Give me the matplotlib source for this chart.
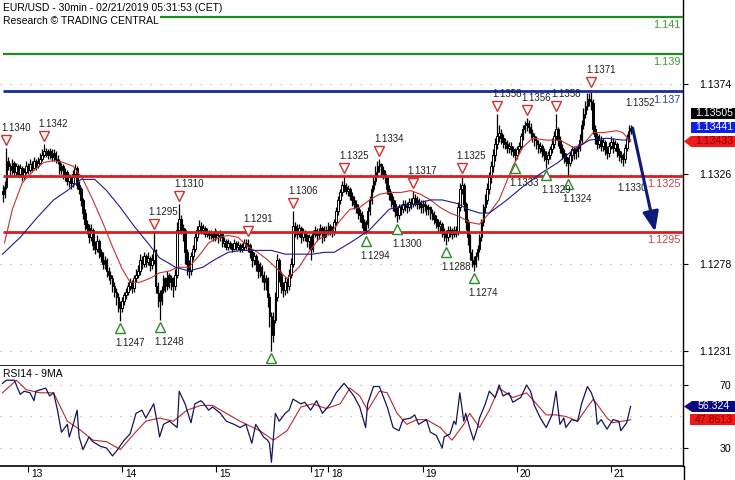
import matplotlib
matplotlib.use("Agg")
import matplotlib.pyplot as plt
import matplotlib.transforms as mtransforms
from matplotlib.patches import Rectangle, Polygon
from matplotlib.lines import Line2D
import numpy as np

plt.rcParams['font.family'] = ['Liberation Sans', 'DejaVu Sans']

# 30 min EUR/USD bars, values in pips above 1.1200
first_open_pips = 117
close_pips = [
    115, 119, 133, 130, 128, 132, 127, 130, 126, 129,
    124, 127, 130, 128, 131, 129, 133, 130, 132, 134,
    136, 138, 137, 136, 138, 135, 137, 134, 133, 128,
    130, 125, 127, 122, 124, 121, 126, 129, 120, 118,
    112, 105, 99, 97, 92, 96, 88, 86, 90, 84,
    82, 78, 80, 74, 72, 70, 66, 63, 60, 56,
    54, 58, 61, 63, 66, 68, 65, 70, 72, 74,
    80, 78, 82, 79, 81, 77, 80, 85, 66, 62,
    58, 64, 70, 66, 72, 68, 70, 66, 72, 96,
    102, 97, 96, 84, 78, 74, 82, 86, 92, 96,
    98, 96, 97, 94, 95, 93, 94, 92, 95, 93,
    92, 94, 89, 90, 87, 89, 88, 86, 89, 87,
    88, 86, 87, 89, 88, 88, 84, 80, 82, 78,
    74, 76, 72, 68, 70, 60, 50, 40, 48, 60,
    80, 72, 66, 64, 68, 66, 72, 78, 98, 96,
    94, 97, 92, 95, 93, 90, 92, 86, 94, 96,
    93, 95, 97, 92, 96, 95, 98, 96, 95, 100,
    106, 112, 116, 120, 119, 117, 118, 114, 112, 110,
    108, 105, 104, 100, 96, 99, 106, 112, 118, 122,
    127, 130, 131, 128, 126, 124, 118, 115, 112, 110,
    106, 104, 108, 107, 110, 109, 108, 111, 110, 113,
    112, 110, 111, 108, 110, 109, 107, 108, 105, 104,
    102, 100, 98, 99, 95, 94, 92, 96, 95, 94,
    96, 95, 108, 118, 120, 110, 100, 92, 84, 80,
    78, 82, 86, 92, 100, 108, 112, 118, 124, 130,
    136, 142, 146, 148, 145, 143, 142, 140, 141, 139,
    138, 136, 139, 141, 146, 150, 152, 153, 151, 148,
    146, 144, 142, 140, 141, 138, 136, 134, 136, 139,
    142, 146, 150, 144, 140, 137, 135, 133, 132, 136,
    139, 137, 138, 140, 144, 152, 158, 162, 166, 165,
    164, 150, 146, 142, 144, 141, 143, 139, 137, 141,
    143, 140, 142, 138, 136, 135, 134, 140, 145, 149,
    150.5,
]
high_pips = [
    120, 122, 140, 135, 132, 134, 133, 132, 131, 131,
    130, 129, 133, 132, 134, 133, 135, 134, 135, 137,
    139, 142, 140, 139, 140, 139, 139, 138, 136, 134,
    132, 131, 129, 128, 126, 125, 128, 131, 130, 122,
    119, 113, 107, 101, 99, 99, 97, 90, 93, 91,
    86, 84, 82, 81, 76, 74, 72, 68, 65, 62,
    58, 60, 63, 65, 68, 70, 69, 72, 75, 77,
    83, 82, 84, 83, 84, 82, 83, 95, 86, 68,
    64, 66, 72, 71, 74, 73, 72, 71, 75, 100,
    110, 104, 99, 97, 86, 80, 84, 88, 95, 98,
    101, 100, 99, 98, 97, 96, 96, 95, 97, 96,
    95, 96, 95, 92, 91, 91, 90, 89, 91, 90,
    90, 89, 89, 91, 91, 91, 89, 85, 84, 83,
    80, 79, 77, 74, 72, 71, 62, 52, 52, 63,
    83, 81, 74, 68, 71, 70, 75, 81, 106, 100,
    99, 99, 98, 97, 96, 94, 94, 93, 96, 98,
    97, 97, 99, 98, 98, 98, 100, 99, 98, 102,
    108, 114, 118, 122, 125, 121, 120, 119, 116, 114,
    112, 110, 107, 106, 102, 101, 108, 114, 120, 125,
    130, 133, 134, 132, 130, 128, 125, 120, 117, 114,
    112, 108, 110, 110, 112, 112, 111, 113, 113, 117,
    115, 114, 113, 112, 112, 112, 110, 110, 109, 107,
    106, 104, 102, 101, 100, 97, 96, 98, 98, 97,
    98, 98, 111, 121, 125, 121, 111, 102, 94, 86,
    82, 84, 88, 94, 102, 110, 115, 121, 127, 133,
    139, 145, 158, 152, 150, 147, 145, 144, 143, 143,
    141, 140, 141, 143, 148, 152, 154, 156, 155, 153,
    150, 148, 146, 144, 143, 142, 140, 138, 138, 141,
    145, 149, 158, 151, 146, 142, 139, 137, 135, 138,
    141, 141, 140, 142, 147, 155, 161, 165, 169, 169,
    171, 166, 152, 148, 147, 146, 145, 144, 141, 143,
    146, 145, 144, 143, 140, 138, 137, 142, 147, 152,
    152,
]
low_pips = [
    111, 113, 118, 128, 125, 126, 125, 125, 124, 124,
    122, 123, 126, 126, 127, 127, 128, 128, 129, 131,
    133, 135, 135, 134, 134, 133, 133, 132, 131, 126,
    126, 123, 122, 120, 119, 118, 119, 124, 118, 115,
    109, 102, 96, 94, 89, 90, 85, 83, 84, 81,
    79, 75, 75, 71, 69, 67, 63, 60, 56, 52,
    47, 52, 56, 59, 61, 64, 62, 63, 68, 70,
    72, 75, 76, 76, 77, 74, 75, 78, 62, 55,
    48, 56, 62, 63, 64, 65, 64, 60, 64, 70,
    94, 94, 90, 78, 72, 70, 72, 80, 84, 90,
    94, 94, 94, 92, 92, 91, 91, 90, 90, 91,
    89, 90, 87, 87, 85, 85, 86, 84, 85, 85,
    85, 84, 84, 85, 86, 84, 81, 76, 77, 74,
    70, 71, 68, 64, 64, 55, 44, 31, 36, 46,
    58, 68, 62, 60, 61, 62, 64, 70, 76, 92,
    91, 92, 89, 90, 90, 87, 86, 80, 84, 92,
    90, 91, 93, 89, 90, 92, 93, 93, 92, 93,
    98, 104, 110, 114, 116, 115, 114, 112, 109, 107,
    105, 102, 100, 97, 94, 94, 97, 104, 110, 116,
    120, 125, 127, 125, 123, 121, 115, 112, 108, 106,
    103, 100, 102, 104, 105, 106, 105, 106, 107, 108,
    109, 107, 107, 105, 105, 106, 104, 104, 102, 101,
    99, 97, 95, 95, 92, 90, 88, 90, 92, 91,
    92, 92, 93, 106, 115, 106, 96, 88, 80, 76,
    74, 76, 80, 84, 90, 98, 105, 110, 115, 121,
    127, 133, 139, 143, 142, 140, 139, 137, 137, 136,
    135, 133, 134, 137, 139, 144, 148, 149, 148, 145,
    143, 141, 139, 137, 137, 135, 133, 129, 131, 134,
    137, 140, 144, 141, 137, 134, 132, 130, 124, 130,
    133, 134, 134, 135, 138, 142, 150, 156, 160, 162,
    160, 147, 142, 139, 140, 138, 138, 136, 134, 135,
    139, 137, 138, 135, 133, 132, 130, 132, 138, 143,
    147,
]

# moving averages as drawn on the chart (bar index, price)
red_ma_bar = [1, 5, 10, 16, 21, 26, 31, 36, 41, 46, 51, 56, 61, 65, 70, 75, 80, 85, 89, 95,
              100, 105, 110, 115, 120, 125, 130, 135, 140, 145, 151, 156, 161, 167, 172, 177,
              182, 187, 192, 197, 203, 208, 213, 218, 223, 228, 233, 238, 243, 248, 253, 260,
              265, 270, 277, 284, 291, 296, 301, 306, 313, 316, 320]
red_ma_val = [1.1289, 1.1307, 1.1321, 1.1328, 1.1332, 1.1333, 1.1332, 1.1330, 1.1323, 1.1312,
              1.1300, 1.1287, 1.1275, 1.1268, 1.1268, 1.1270, 1.1273, 1.1274, 1.1276, 1.1276,
              1.1282, 1.1289, 1.1292, 1.1293, 1.1292, 1.1287, 1.1284, 1.1280, 1.1275, 1.1270,
              1.1276, 1.1284, 1.1291, 1.1294, 1.1301, 1.1307, 1.1308, 1.1312, 1.1315, 1.1316,
              1.1316, 1.1317, 1.1315, 1.1312, 1.1308, 1.1305, 1.1303, 1.1300, 1.1299, 1.1305,
              1.1312, 1.1330, 1.1340, 1.1345, 1.1344, 1.1344, 1.1340, 1.1342, 1.1348, 1.1348,
              1.1349, 1.1348, 1.13433]
blue_ma_bar = [0, 9, 18, 26, 33, 40, 47, 53, 60, 67, 74, 80, 85, 88, 95, 102, 108, 115, 122, 129,
               137, 144, 151, 158, 164, 169, 177, 187, 197, 204, 211, 218, 224, 232, 237, 243,
               248, 257, 265, 274, 283, 291, 299, 308, 316, 320]
blue_ma_val = [1.1283, 1.1292, 1.1303, 1.1312, 1.1317, 1.1323, 1.1323, 1.1317, 1.1308, 1.1298,
               1.1289, 1.1281, 1.1278, 1.1276, 1.1274, 1.1276, 1.1280, 1.1284, 1.1285, 1.1285,
               1.1285, 1.1283, 1.1283, 1.1283, 1.1284, 1.1284, 1.1289, 1.1296, 1.1307, 1.1309,
               1.1310, 1.1312, 1.1312, 1.1310, 1.1307, 1.1305, 1.1305, 1.1312, 1.1319, 1.1326,
               1.1332, 1.1339, 1.1344, 1.1345, 1.1344, 1.13441]

# swing highs / lows flagged on the chart
peak_bar = [2, 21, 77, 90, 125, 148, 174, 192, 209, 234, 252, 267, 282, 300]
peak_val = [1.1340, 1.1342, 1.1295, 1.1310, 1.1291, 1.1306, 1.1325, 1.1334, 1.1317, 1.1325,
            1.1358, 1.1356, 1.1358, 1.1371]
trough_bar = [60, 80, 137, 185, 201, 226, 240, 261, 277, 288]
trough_val = [1.1247, 1.1248, 1.1231, 1.1294, 1.1300, 1.1288, 1.1274, 1.1333, 1.1329, 1.1324]
pending_high_bar, pending_high_val = 320, 1.1352
pending_low_bar, pending_low_val = 316, 1.1330

# key levels
level_val = [1.141, 1.139, 1.137, 1.1325, 1.1295]
level_txt = ['1.141', '1.139', '1.137', '1.1325', '1.1295']
level_col = ['#1f8a1f', '#1f8a1f', '#1a2aa0', '#d42020', '#d42020']
label_col = ['#3a9a3a', '#3a9a3a', '#3040b0', '#d04040', '#d04040']

forecast_bar, forecast_target = 332.5, 1.1295

price_ticks = [1.1374, 1.1326, 1.1278, 1.1231]
day_labels = ['13', '14', '15', '17', '18', '19', '20', '21']
day_bar = [13, 61, 109, 157, 166, 214, 262, 310]

# RSI(14) and its 9 period average (bar index, value)
rsi_bar = [0, 2, 6, 9, 11, 14, 16, 17, 22, 24, 26, 28, 30, 33, 34, 36, 38, 39, 41, 44,
           46, 50, 53, 56, 58, 62, 65, 68, 71, 73, 77, 79, 80, 82, 85, 89, 90, 93, 96, 98,
           101, 102, 105, 107, 111, 114, 118, 121, 124, 127, 129, 133, 135, 136, 137, 139,
           141, 144, 146, 148, 152, 154, 157, 160, 163, 167, 170, 174, 176, 179, 182, 185,
           186, 189, 192, 196, 199, 202, 204, 208, 210, 212, 216, 218, 221, 224, 225, 228,
           230, 231, 233, 235, 236, 238, 240, 242, 243, 246, 248, 251, 253, 255, 258, 260,
           264, 267, 269, 271, 274, 277, 280, 282, 284, 286, 287, 290, 293, 295, 298, 300,
           302, 303, 305, 308, 311, 314, 315, 318, 320]
rsi_val = [71, 73, 73, 64, 66, 65, 60, 66, 68, 63, 65, 54, 40, 45, 37, 45, 54, 37, 29, 37,
           34, 31, 30, 25, 28, 35, 39, 52, 54, 49, 58, 45, 37, 45, 47, 43, 66, 58, 46, 58,
           60, 59, 54, 56, 52, 47, 45, 43, 45, 33, 45, 37, 35, 33, 21, 52,
           47, 52, 54, 61, 58, 59, 54, 60, 52, 58, 65, 71, 68, 63, 56, 43,
           58, 69, 69, 56, 43, 41, 48, 49, 51, 45, 48, 40, 38, 30, 37, 39,
           47, 45, 65, 47, 52, 43, 35, 43, 49, 58, 66, 62, 70, 63, 65, 59,
           62, 70, 66, 57, 49, 43, 51, 66, 45, 49, 43, 48, 47, 58, 69, 65,
           58, 45, 48, 42, 48, 47, 41, 46, 56.324]
rsi_ma_bar = [0, 7, 12, 19, 26, 33, 39, 46, 53, 60, 67, 73, 80, 87, 94, 101, 107, 114, 121, 131,
              138, 145, 152, 158, 165, 172, 177, 182, 186, 192, 196, 201, 206, 211, 216, 223,
              229, 235, 238, 243, 248, 253, 260, 267, 272, 277, 282, 287, 293, 298, 301, 308,
              311, 320]
rsi_ma_val = [65, 73, 67, 65, 65, 47, 42, 35, 34, 29, 39, 47, 49, 47, 54, 57, 57, 52, 47, 41,
              35, 41, 56, 58, 55, 58, 68, 63, 54, 66, 65, 52, 45, 48, 48, 43, 35, 45, 52, 43,
              54, 68, 62, 65, 58, 51, 51, 50, 47, 56, 61, 49, 46, 47.8613]
rsi_ticks = [70, 30]
rsi_grid = [70, 50, 30]

# ---------------------------------------------------------------------------
W, H = 735, 480
fig = plt.figure(figsize=(W / 100, H / 100), dpi=100)
ax = fig.add_axes([0, 114 / H, 683 / W, 366 / H])
ax_rsi = fig.add_axes([0, 14 / H, 683 / W, 100 / H])

bars = np.arange(len(close_pips))
close = 1.12 + np.array(close_pips) / 1e4
high = 1.12 + np.array(high_pips) / 1e4
low = 1.12 + np.array(low_pips) / 1e4
open_ = np.concatenate([[1.12 + first_open_pips / 1e4], close[:-1]])

x_lim = (-1.3, 346.7)
ax.set_xlim(*x_lim)
ax.set_ylim(1.12232, 1.14189)
ax_rsi.set_xlim(*x_lim)
ax_rsi.set_ylim(18.6, 82.0)

grid_style = dict(color='#a8a8a8', lw=0.8, linestyle=(0, (1, 8)), zorder=1)
for t in price_ticks:
    ax.axhline(t, **grid_style)
for t in rsi_grid:
    ax_rsi.axhline(t, **grid_style)

# candles
up = close >= open_
ax.vlines(bars, low, high, color='black', lw=0.9, zorder=3)
ax.bar(bars[up], (close - open_)[up], bottom=open_[up], width=0.85,
       facecolor='white', edgecolor='black', linewidth=0.7, zorder=4)
ax.bar(bars[~up], (open_ - close)[~up], bottom=close[~up], width=0.85,
       facecolor='black', edgecolor='black', linewidth=0.7, zorder=4)

# key levels
for val, txt, col, lcol in zip(level_val, level_txt, level_col, label_col):
    lw = 1.6 if col == '#1f8a1f' else 2.0
    ax.hlines(val, 0, x_lim[1], color=col, lw=lw, zorder=4.5)
    ax.annotate(txt, xy=(1, val), xycoords=('axes fraction', 'data'),
                xytext=(-2, -6), textcoords='offset points',
                ha='right', va='center', color=lcol, fontsize=7.8, zorder=6)

# moving averages
ax.plot(red_ma_bar, red_ma_val, color='#c83030', lw=0.8, zorder=5)
ax.plot(blue_ma_bar, blue_ma_val, color='#1c1c8c', lw=0.8, zorder=5)


def shifted(axis, dx=0, dy=0):
    return mtransforms.offset_copy(axis.transData, fig=fig, x=dx, y=dy, units='dots')


# swing markers
ax.plot(peak_bar, peak_val, 'v', ms=7.5, mfc='white', mec='#cc3030', mew=1.0,
        transform=shifted(ax, dy=8), zorder=6)
ax.plot(trough_bar, trough_val, '^', ms=7.5, mfc='white', mec='#2a8a2a', mew=1.0,
        transform=shifted(ax, dy=-7), zorder=6)
for b, v in zip(peak_bar, peak_val):
    ax.text(b, v, f'{v:.4f}', transform=shifted(ax, -5, 20), ha='left', va='center',
            fontsize=7, color='#202020', zorder=6)
for b, v in zip(trough_bar, trough_val):
    ax.text(b, v, f'{v:.4f}', transform=shifted(ax, -5, -22), ha='left', va='center',
            fontsize=7, color='#202020', zorder=6, clip_on=True)
ax.text(pending_high_bar, pending_high_val, f'{pending_high_val:.4f}',
        transform=shifted(ax, -5, 22), ha='left', va='center', fontsize=7, color='#202020')
ax.text(pending_low_bar, pending_low_val, f'{pending_low_val:.4f}',
        transform=shifted(ax, -5, -22), ha='left', va='center', fontsize=7, color='#202020')

# forecast arrow
ax.annotate('', xy=(forecast_bar, forecast_target), xytext=(bars[-1] + 1, close[-1]),
            arrowprops=dict(arrowstyle='-|>,head_length=0.8,head_width=0.32',
                            color='#0d1a7a', lw=2.2, mutation_scale=15,
                            shrinkA=0, shrinkB=0), zorder=7)

# header text
ax.text(3 / 683, 1 - 8 / 366, 'EUR/USD - 30min - 02/21/2019 05:31:53 (CET)',
        transform=ax.transAxes, ha='left', va='center', fontsize=7.5, color='black', zorder=8)
ax.text(3 / 683, 1 - 21 / 366, 'Research \u00a9 TRADING CENTRAL',
        transform=ax.transAxes, ha='left', va='center', fontsize=7.5, color='black', zorder=8,
        bbox=dict(facecolor='white', edgecolor='none', pad=1))

# RSI panel
ax_rsi.plot(rsi_bar, rsi_val, color='#14145a', lw=0.9, zorder=4)
ax_rsi.plot(rsi_ma_bar, rsi_ma_val, color='#b82828', lw=0.8, zorder=3)
ax_rsi.text(3 / 683, 1 - 8 / 100, 'RSI14 - 9MA', transform=ax_rsi.transAxes,
            ha='left', va='center', fontsize=7.5, color='black')

# axes styling
for a in (ax, ax_rsi):
    a.spines['left'].set_visible(False)
    a.spines['top'].set_visible(False)
    a.spines['right'].set_linewidth(1.0)
    a.spines['bottom'].set_linewidth(1.2)
    a.yaxis.tick_right()
    a.tick_params(axis='y', direction='out', length=3.6, width=0.8, pad=31, labelsize=7.6)

ax.set_yticks(price_ticks)
ax.set_yticklabels([f'{t:.4f}' for t in price_ticks])
ax.tick_params(axis='x', bottom=False, labelbottom=False)
ax_rsi.set_yticks(rsi_ticks)
ax_rsi.set_yticklabels([str(t) for t in rsi_ticks])
for a in (ax, ax_rsi):
    for lbl in a.get_yticklabels():
        lbl.set_horizontalalignment('right')

ax_rsi.set_xticks(day_bar)
ax_rsi.set_xticklabels(day_labels)
ax_rsi.tick_params(axis='x', direction='out', length=4.3, width=0.8, pad=-2, labelsize=7.4)
nudge = mtransforms.ScaledTranslation(3 / 100, 0, fig.dpi_scale_trans)
for lbl in ax_rsi.get_xticklabels():
    lbl.set_horizontalalignment('left')
    lbl.set_transform(lbl.get_transform() + nudge)

# right axis line continues to the bottom edge
fig.add_artist(Line2D([683.5, 683.5], [0, 14], transform=mtransforms.IdentityTransform(),
                      color='black', lw=1.0))

# value tags on the right scale
ident = mtransforms.IdentityTransform()


def value_tag(axis, value, text, face, fg, lift=0, pointer=False, x0=691):
    y = axis.transData.transform((0, value))[1] + lift
    fig.add_artist(Rectangle((x0, y - 5.5), 735 - x0, 11, transform=ident,
                             facecolor=face, edgecolor='none'))
    if pointer:
        fig.add_artist(Polygon([(684, y), (x0, y + 5.5), (x0, y - 5.5)], closed=True,
                               transform=ident, facecolor=face, edgecolor='none'))
    fig.text(714, y, text, transform=ident, ha='center', va='center', color=fg, fontsize=7.6)


value_tag(ax, red_ma_val[-1], f'{red_ma_val[-1]:.5f}', '#ee1a1a', '#8a0000', pointer=True)
value_tag(ax, red_ma_val[-1], f'{blue_ma_val[-1]:.5f}', '#1020e0', 'white', lift=14)
value_tag(ax, red_ma_val[-1], f'{close[-1]:.5f}', 'black', 'white', lift=28)
value_tag(ax_rsi, rsi_val[-1], f'{rsi_val[-1]:.3f}', '#0a0a80', 'white', pointer=True, x0=692)
value_tag(ax_rsi, rsi_ma_val[-1], f'{rsi_ma_val[-1]:.4f}', '#ee1a1a', '#8a0000', x0=690)

fig.savefig('out.png', dpi=100)
